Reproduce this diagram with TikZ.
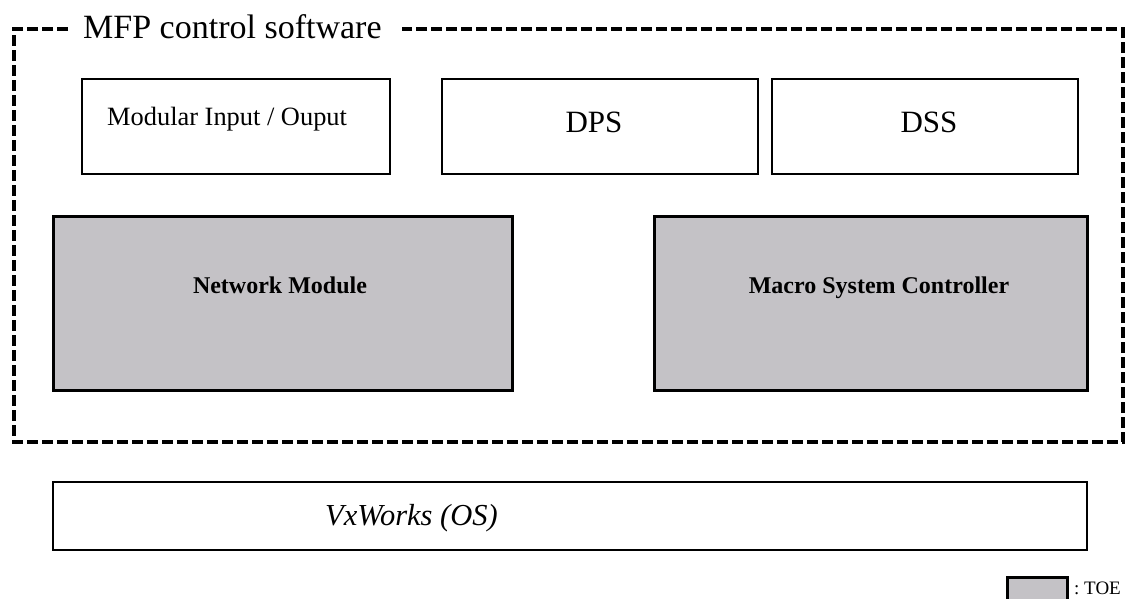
\documentclass[tikz,border=0pt]{standalone}
\usepackage{fontspec}
\setmainfont{Liberation Serif}
\definecolor{toegrey}{RGB}{196,194,198}
\tikzset{
  wbox/.style={draw=black, line width=2pt, fill=white, rectangle, inner sep=0pt},
  gbox/.style={draw=black, line width=3pt, fill=toegrey, rectangle, inner sep=0pt},
  frame/.style={draw=black, line width=4pt, dash pattern=on 11pt off 4pt},
  lbl/.style={inner sep=0pt, anchor=base},
}
\begin{document}
\begin{tikzpicture}[x=1pt,y=-1pt]
\useasboundingbox (0,0) rectangle (1125,598);
% dashed frame
\coordinate (fa) at (68,29);
\coordinate (fb) at (14,29);
\coordinate (fc) at (14,442);
\coordinate (fd) at (1123,442);
\coordinate (fe) at (1123,29);
\coordinate (ff) at (402,29);
\draw[frame] (fa) -- (fb) -- (fc) -- (fd) -- (fe) -- (ff);
\node[inner sep=0pt, anchor=base west, font=\fontsize{34}{37}\selectfont] (title) at (83,38) {MFP control software};
% top row
\node[wbox, minimum width=308pt, minimum height=95pt] (mio) at (236,126.5) {};
\node[inner sep=0pt, anchor=base west, font=\fontsize{26.4}{30}\selectfont] (miot) at (107,125) {Modular Input / Ouput};
\node[wbox, minimum width=316pt, minimum height=95pt] (dps) at (600,126.5) {};
\node[lbl, font=\fontsize{31}{34}\selectfont] (dpst) at (594,132) {DPS};
\node[wbox, minimum width=306pt, minimum height=95pt] (dss) at (925,126.5) {};
\node[lbl, font=\fontsize{31}{34}\selectfont] (dsst) at (929,132) {DSS};
% grey row
\node[gbox, minimum width=459pt, minimum height=174pt] (net) at (282.5,303) {};
\node[lbl, font=\bfseries\fontsize{24}{28}\selectfont] (nett) at (280,293) {Network Module};
\node[gbox, minimum width=433pt, minimum height=174pt] (msc) at (870.5,303) {};
\node[lbl, font=\bfseries\fontsize{24}{28}\selectfont] (msct) at (879,293) {Macro System Controller};
% OS
\node[wbox, minimum width=1034pt, minimum height=68pt] (os) at (570,516) {};
\node[inner sep=0pt, anchor=base west, font=\itshape\fontsize{30.5}{34}\selectfont] (ost) at (325,525) {VxWorks (OS)};
% legend
\node[gbox, minimum width=60pt, minimum height=30pt] (leg) at (1037,592) {};
\node[inner sep=0pt, anchor=base west, font=\fontsize{19}{21}\selectfont] (legt) at (1074,594) {:\ TOE};
\end{tikzpicture}
\end{document}
